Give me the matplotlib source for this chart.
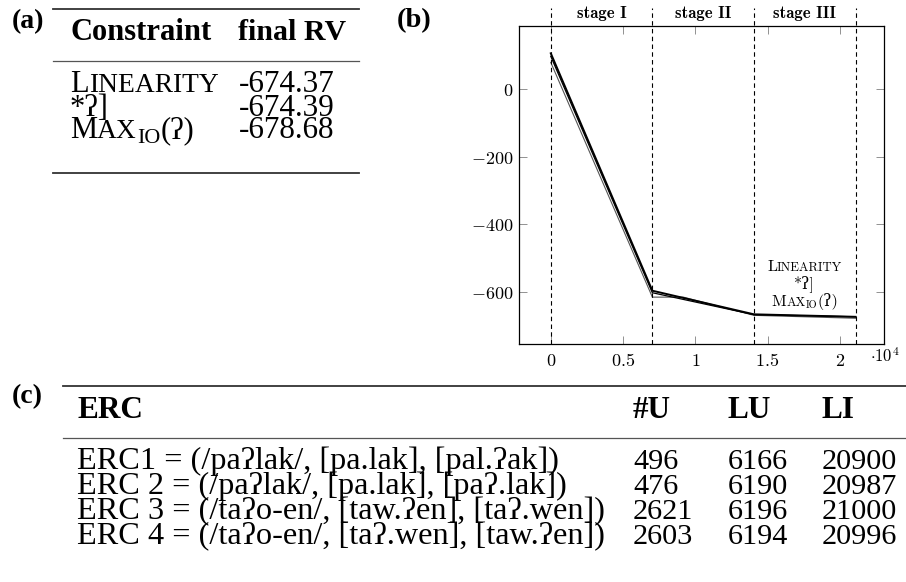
import matplotlib
matplotlib.use("Agg")
import matplotlib.pyplot as plt

plt.rcParams['mathtext.fontset'] = 'cm'
plt.rcParams['axes.formatter.use_mathtext'] = True

W, H = 906, 582
SERIF = ['Liberation Serif', 'DejaVu Serif']
CM = ['cmr10', 'DejaVu Serif']

# (a) final ranking values
constraints = ['LINEARITY', '*ʔ]', 'MAX_IO(ʔ)']
final_rv = ['-674.37', '-674.39', '-678.68']

# (b) ranking value trajectories over learning steps
stage_bounds = [0, 7030, 14060, 21090]
stage_names = ['stage I', 'stage II', 'stage III']
lin_x = [0, 7030, 14060, 21090]
lin_y = [107, -597, -667, -674.37]
glot_x = [0, 7030, 14060, 21090]
glot_y = [98, -603, -668, -674.39]
max_x = [0, 7030, 9170, 14060, 21090]
max_y = [80, -616, -616, -670, -678.68]

# (c) ERC table
erc_names = ['ERC1 = (/paʔlak/, [pa.lak], [pal.ʔak])',
             'ERC 2 = (/paʔlak/, [pa.lak], [paʔ.lak])',
             'ERC 3 = (/taʔo-en/, [taw.ʔen], [taʔ.wen])',
             'ERC 4 = (/taʔo-en/, [taʔ.wen], [taw.ʔen])']
n_u = [496, 476, 2621, 2603]
lu = [6166, 6190, 6196, 6194]
li = [20900, 20987, 21000, 20996]

fig = plt.figure(figsize=(W / 100, H / 100), dpi=100)
bg = fig.add_axes([0, 0, 1, 1])
bg.set_xlim(0, W)
bg.set_ylim(H, 0)
bg.axis('off')
bg.set_zorder(10)
rend = fig.canvas.get_renderer()


def runs(x, y, parts, ha='left'):
    # parts: (text, size, raise_px, family)
    arts, cx = [], x
    for s, size, dy, fam in parts:
        t = bg.text(cx, y - dy, s, fontsize=size, family=fam, va='baseline', ha='left')
        arts.append(t)
        cx += t.get_window_extent(rend).width
    if ha == 'center':
        shift = (cx - x) / 2
        for t in arts:
            t.set_x(t.get_position()[0] - shift)


def smallcaps(label, big, small, fam, y, x, ha='left'):
    if label.startswith('MAX_IO'):
        parts = [('M', big, 0, fam), ('AX', small, 0, fam),
                 ('IO', small * 0.8, -big * 0.2, fam), (label[6:], big, 0, fam)]
    elif label.isalpha() and label.isupper():
        parts = [(label[0], big, 0, fam), (label[1:], small, 0, fam)]
    else:
        parts = [(label, big, 0, fam)]
    runs(x, y, parts, ha=ha)


# ---------- (a) ----------
bg.text(12, 28, '(a)', fontsize=20, family=SERIF, weight='bold', va='baseline')
bg.plot([53, 359], [8.5, 8.5], color='#333333', lw=1.3)
bg.plot([53, 359], [60.5, 60.5], color='#555555', lw=0.9)
bg.plot([53, 359], [172.5, 172.5], color='#333333', lw=1.3)
bg.text(70, 40, 'Constraint', fontsize=22, family=SERIF, weight='bold', va='baseline')
bg.text(238, 40, 'final RV', fontsize=21.5, family=SERIF, weight='bold', va='baseline')
for i, (c, v) in enumerate(zip(constraints, final_rv)):
    yb = 92.5 + i * 23
    smallcaps(c, 22, 19.8, SERIF, yb, 70)
    bg.text(239, yb, v, fontsize=22.4, family=SERIF, va='baseline')

# ---------- (b) ----------
bg.text(397, 27, '(b)', fontsize=20.5, family=SERIF, weight='bold', va='baseline')
ax = fig.add_axes([519 / W, 1 - 344 / H, (884 - 519) / W, (344 - 26) / H])
ax.plot(max_x, max_y, color='#555555', lw=0.8)
ax.plot(glot_x, glot_y, color='black', lw=0.9)
ax.plot(lin_x, lin_y, color='black', lw=1.4)
ax.set_xlim(-2200, 23060)
ax.set_ylim(-755, 188)
for b in stage_bounds:
    ax.plot([b, b], [0, 1.057], transform=ax.get_xaxis_transform(), clip_on=False,
            color='black', lw=0.8, dashes=(4, 3))
for i, name in enumerate(stage_names):
    xm = (stage_bounds[i] + stage_bounds[i + 1]) / 2
    ax.text(xm, 1.025, name, transform=ax.get_xaxis_transform(), ha='center',
            va='baseline', fontsize=12, family=['cmb10', 'DejaVu Serif'])
ax.set_xticks([0, 5000, 10000, 15000, 20000])
ax.set_xticklabels(['$0$', '$0.5$', '$1$', '$1.5$', '$2$'])
ax.set_yticks([-600, -400, -200, 0])
ax.set_yticklabels(['$-600$', '$-400$', '$-200$', '$0$'])
ax.tick_params(direction='in', top=True, right=True, length=6, width=0.6,
               color='0.5', labelsize=13)
ax.tick_params(axis='x', pad=6)
ax.tick_params(axis='y', pad=4)
for s in ax.spines.values():
    s.set_linewidth(0.9)
ax.text(0.962, -0.041, r'$\cdot 10^{4}$', transform=ax.transAxes, fontsize=12,
        ha='left', va='center')

# labels of the final values, centred in stage III
fig.canvas.draw()
xm = (stage_bounds[2] + stage_bounds[3]) / 2
px, py = ax.transData.transform((xm, -539))
for i, c in enumerate(constraints):
    smallcaps(c, 11.5, 9.2, CM, (H - py) + i * 17.3, px, ha='center')

# ---------- (c) ----------
bg.text(12, 403, '(c)', fontsize=20, family=SERIF, weight='bold', va='baseline')
bg.plot([63, W], [386, 386], color='#333333', lw=1.3)
bg.plot([63, W], [437.5, 437.5], color='#555555', lw=0.9)
col_x = [77, 633, 728, 821.7]
for x, h in zip(col_x, ['ERC', '#U', 'LU', 'LI']):
    bg.text(x, 418, h, fontsize=22.5, family=SERIF, weight='bold', va='baseline')
for i in range(len(erc_names)):
    yb = 469 + i * 25
    row = [erc_names[i], str(n_u[i]), str(lu[i]), str(li[i])]
    for j, (x, s) in enumerate(zip(col_x, row)):
        bg.text(x, yb, s, fontsize=23.2 if j == 0 else 21.8, family=SERIF, va='baseline')

fig.savefig('out.png', dpi=100)
